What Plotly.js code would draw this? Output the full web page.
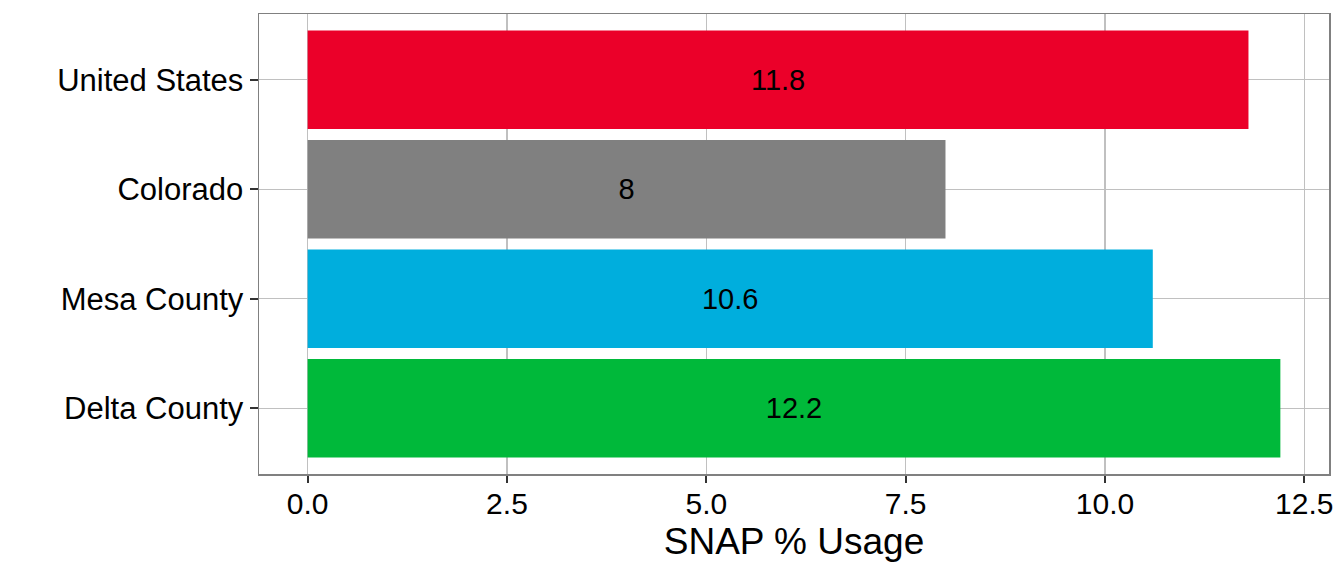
<!DOCTYPE html>
<html><head><meta charset="utf-8">
<script src="https://cdn.plot.ly/plotly-3.0.1.min.js"></script>
<style>html,body{margin:0;padding:0;background:#fff;}#chart{width:1344px;height:576px;}</style>
</head><body><div id="chart"></div>
<script>
const categories = ["Delta County", "Mesa County", "Colorado", "United States"];
const snapUsage = [12.2, 10.6, 8, 11.8];
const barColors = ["#00B93A", "#00AEDD", "#808080", "#EB0029"];
const xTickVals = [0, 2.5, 5, 7.5, 10, 12.5];
const xTickText = ["0.0", "2.5", "5.0", "7.5", "10.0", "12.5"];

const trace = {
  type: "bar",
  orientation: "h",
  y: categories,
  x: snapUsage,
  width: 0.9,
  marker: {color: barColors},
  text: snapUsage.map(String),
  textposition: "inside",
  insidetextanchor: "middle",
  textangle: 0,
  textfont: {family: "Liberation Sans, Arial, sans-serif", size: 29, color: "#000"},
  hoverinfo: "none"
};

const layout = {
  width: 1344, height: 576,
  margin: {l: 259, r: 15, t: 14, b: 102},
  paper_bgcolor: "#fff", plot_bgcolor: "#fff",
  showlegend: false,
  font: {family: "Liberation Sans, Arial, sans-serif", color: "#000"},
  xaxis: {
    range: [-0.61, 12.81],
    tickvals: xTickVals, ticktext: xTickText,
    ticks: "outside", ticklen: 7, tickwidth: 2, tickcolor: "#333",
    ticklabelstandoff: -5,
    tickfont: {size: 30, color: "#000"},
    showgrid: true, gridcolor: "#c0c0c0", gridwidth: 1.2,
    zeroline: false,
    showline: true, linecolor: "#808080", linewidth: 1.5, mirror: true,
    title: {text: "SNAP % Usage", font: {size: 37, color: "#000"}, standoff: 9},
    fixedrange: true
  },
  yaxis: {
    type: "category",
    categoryorder: "array", categoryarray: categories,
    range: [-0.6, 3.6],
    ticks: "outside", ticklen: 8, tickwidth: 2, tickcolor: "#333",
    tickfont: {size: 31, color: "#000"},
    showgrid: true, gridcolor: "#c0c0c0", gridwidth: 1.2,
    zeroline: false,
    showline: true, linecolor: "#808080", linewidth: 1.5, mirror: true,
    fixedrange: true
  }
};

Plotly.newPlot("chart", [trace], layout, {displayModeBar: false, staticPlot: true});
</script>
</body></html>
